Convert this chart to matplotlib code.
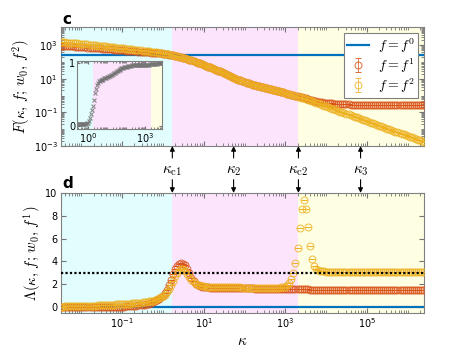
import numpy as np
import matplotlib
matplotlib.use("Agg")
import matplotlib.pyplot as plt
from matplotlib.ticker import LogLocator, NullFormatter
from matplotlib.transforms import blended_transform_factory

plt.rcParams['mathtext.fontset'] = 'cm'

# log10(kappa) sample points
log_kappa = [
    -2.5, -2.45, -2.4, -2.35, -2.3, -2.25, -2.2, -2.15, -2.1, -2.05,
    -2.0, -1.95, -1.9, -1.85, -1.8, -1.75, -1.7, -1.65, -1.6, -1.55,
    -1.5, -1.45, -1.4, -1.35, -1.3, -1.25, -1.2, -1.15, -1.1, -1.05,
    -1.0, -0.95, -0.9, -0.85, -0.8, -0.75, -0.7, -0.65, -0.6, -0.55,
    -0.5, -0.45, -0.4, -0.35, -0.3, -0.25, -0.2, -0.15, -0.1, -0.05,
    0.0, 0.05, 0.1, 0.15, 0.2, 0.25, 0.3, 0.35, 0.4, 0.45,
    0.5, 0.55, 0.6, 0.65, 0.7, 0.75, 0.8, 0.85, 0.9, 0.95,
    1.0, 1.05, 1.1, 1.15, 1.2, 1.25, 1.3, 1.35, 1.4, 1.45,
    1.5, 1.55, 1.6, 1.65, 1.7, 1.75, 1.8, 1.85, 1.9, 1.95,
    2.0, 2.05, 2.1, 2.15, 2.2, 2.25, 2.3, 2.35, 2.4, 2.45,
    2.5, 2.55, 2.6, 2.65, 2.7, 2.75, 2.8, 2.85, 2.9, 2.95,
    3.0, 3.05, 3.1, 3.15, 3.2, 3.25, 3.3, 3.35, 3.4, 3.45,
    3.5, 3.55, 3.6, 3.65, 3.7, 3.75, 3.8, 3.85, 3.9, 3.95,
    4.0, 4.05, 4.1, 4.15, 4.2, 4.25, 4.3, 4.35, 4.4, 4.45,
    4.5, 4.55, 4.6, 4.65, 4.7, 4.75, 4.8, 4.85, 4.9, 4.95,
    5.0, 5.05, 5.1, 5.15, 5.2, 5.25, 5.3, 5.35, 5.4, 5.45,
    5.5, 5.55, 5.6, 5.65, 5.7, 5.75, 5.8, 5.85, 5.9, 5.95,
    6.0, 6.05, 6.1, 6.15, 6.2, 6.25, 6.3, 6.35, 6.4,
]

# log10 F for f = f^1 (red) and f = f^2 (orange)
logF1 = [
    2.96, 2.95, 2.95, 2.94, 2.93, 2.92, 2.91, 2.90, 2.90, 2.89,
    2.88, 2.87, 2.86, 2.85, 2.84, 2.83, 2.82, 2.82, 2.81, 2.80,
    2.79, 2.78, 2.77, 2.76, 2.75, 2.74, 2.73, 2.72, 2.71, 2.70,
    2.69, 2.68, 2.67, 2.66, 2.65, 2.64, 2.63, 2.62, 2.61, 2.60,
    2.59, 2.58, 2.57, 2.56, 2.55, 2.54, 2.53, 2.52, 2.51, 2.50,
    2.49, 2.47, 2.45, 2.43, 2.41, 2.39, 2.37, 2.34, 2.31, 2.28,
    2.25, 2.21, 2.17, 2.13, 2.09, 2.05, 2.01, 1.96, 1.92, 1.87,
    1.82, 1.77, 1.72, 1.67, 1.62, 1.57, 1.52, 1.48, 1.43, 1.38,
    1.33, 1.28, 1.22, 1.17, 1.11, 1.06, 1.00, 0.95, 0.90, 0.85,
    0.80, 0.76, 0.72, 0.68, 0.64, 0.61, 0.58, 0.55, 0.52, 0.49,
    0.46, 0.43, 0.40, 0.37, 0.34, 0.31, 0.27, 0.24, 0.21, 0.18,
    0.15, 0.12, 0.08, 0.05, 0.02, -0.01, -0.04, -0.07, -0.10, -0.13,
    -0.16, -0.20, -0.24, -0.27, -0.30, -0.33, -0.36, -0.38, -0.40, -0.42,
    -0.43, -0.45, -0.46, -0.47, -0.48, -0.49, -0.50, -0.51, -0.51, -0.52,
    -0.53, -0.53, -0.54, -0.54, -0.54, -0.55, -0.55, -0.55, -0.55, -0.56,
    -0.56, -0.56, -0.55, -0.56, -0.56, -0.57, -0.56, -0.56, -0.56, -0.56,
    -0.56, -0.57, -0.56, -0.56, -0.56, -0.56, -0.57, -0.56, -0.56, -0.56,
    -0.56, -0.56, -0.57, -0.56, -0.56, -0.56, -0.56, -0.57, -0.56,
]
logF2 = [
    3.17, 3.16, 3.15, 3.14, 3.13, 3.12, 3.11, 3.10, 3.09, 3.08,
    3.07, 3.06, 3.04, 3.03, 3.02, 3.00, 2.99, 2.98, 2.96, 2.95,
    2.94, 2.93, 2.91, 2.90, 2.89, 2.87, 2.86, 2.85, 2.83, 2.82,
    2.81, 2.80, 2.78, 2.77, 2.75, 2.74, 2.73, 2.71, 2.70, 2.68,
    2.67, 2.65, 2.64, 2.62, 2.61, 2.59, 2.57, 2.56, 2.54, 2.53,
    2.51, 2.49, 2.47, 2.45, 2.42, 2.40, 2.37, 2.34, 2.31, 2.28,
    2.25, 2.21, 2.17, 2.13, 2.09, 2.05, 2.01, 1.96, 1.92, 1.87,
    1.82, 1.77, 1.72, 1.67, 1.62, 1.57, 1.52, 1.48, 1.43, 1.38,
    1.33, 1.28, 1.22, 1.17, 1.11, 1.06, 1.00, 0.95, 0.90, 0.85,
    0.80, 0.76, 0.72, 0.68, 0.64, 0.61, 0.58, 0.55, 0.52, 0.49,
    0.46, 0.43, 0.40, 0.37, 0.34, 0.31, 0.27, 0.24, 0.21, 0.18,
    0.15, 0.12, 0.08, 0.05, 0.01, -0.02, -0.06, -0.09, -0.13, -0.16,
    -0.20, -0.24, -0.29, -0.33, -0.38, -0.42, -0.46, -0.51, -0.55, -0.60,
    -0.64, -0.68, -0.73, -0.77, -0.82, -0.86, -0.90, -0.95, -0.99, -1.04,
    -1.08, -1.12, -1.17, -1.21, -1.26, -1.30, -1.34, -1.39, -1.43, -1.48,
    -1.52, -1.56, -1.61, -1.65, -1.70, -1.74, -1.78, -1.83, -1.87, -1.92,
    -1.96, -2.00, -2.05, -2.09, -2.14, -2.18, -2.22, -2.27, -2.31, -2.36,
    -2.40, -2.44, -2.49, -2.53, -2.58, -2.62, -2.66, -2.71, -2.75,
]

# Lambda for f = f^1 (red) and f = f^2 (orange)
Lam1 = [
    0.01, 0.01, 0.01, 0.01, 0.01, 0.01, 0.01, 0.01, 0.01, 0.01,
    0.01, 0.01, 0.02, 0.02, 0.02, 0.02, 0.02, 0.02, 0.02, 0.02,
    0.03, 0.03, 0.03, 0.03, 0.03, 0.04, 0.04, 0.04, 0.05, 0.05,
    0.06, 0.06, 0.07, 0.08, 0.09, 0.10, 0.11, 0.13, 0.15, 0.17,
    0.20, 0.23, 0.27, 0.31, 0.36, 0.42, 0.50, 0.60, 0.72, 0.85,
    1.00, 1.20, 1.50, 1.90, 2.40, 2.90, 3.30, 3.60, 3.78, 3.85,
    3.82, 3.65, 3.35, 2.95, 2.55, 2.25, 2.05, 1.92, 1.84, 1.79,
    1.76, 1.74, 1.73, 1.72, 1.71, 1.71, 1.70, 1.70, 1.69, 1.69,
    1.68, 1.68, 1.68, 1.67, 1.67, 1.67, 1.66, 1.66, 1.66, 1.65,
    1.65, 1.65, 1.64, 1.64, 1.64, 1.63, 1.63, 1.63, 1.62, 1.62,
    1.62, 1.61, 1.61, 1.61, 1.60, 1.60, 1.60, 1.59, 1.59, 1.59,
    1.58, 1.58, 1.58, 1.57, 1.57, 1.57, 1.56, 1.56, 1.56, 1.55,
    1.55, 1.55, 1.54, 1.54, 1.54, 1.54, 1.53, 1.53, 1.53, 1.53,
    1.52, 1.53, 1.52, 1.52, 1.53, 1.52, 1.52, 1.52, 1.53, 1.52,
    1.52, 1.52, 1.53, 1.52, 1.52, 1.52, 1.52, 1.53, 1.52, 1.52,
    1.53, 1.52, 1.52, 1.52, 1.52, 1.53, 1.52, 1.52, 1.52, 1.53,
    1.52, 1.52, 1.53, 1.52, 1.52, 1.52, 1.53, 1.52, 1.52, 1.52,
    1.52, 1.53, 1.52, 1.52, 1.52, 1.53, 1.52, 1.52, 1.52,
]
Lam2 = [
    0.06, 0.06, 0.07, 0.07, 0.08, 0.08, 0.08, 0.09, 0.09, 0.10,
    0.10, 0.11, 0.11, 0.12, 0.12, 0.13, 0.13, 0.14, 0.15, 0.16,
    0.17, 0.18, 0.19, 0.20, 0.21, 0.22, 0.23, 0.24, 0.25, 0.26,
    0.27, 0.28, 0.29, 0.30, 0.31, 0.33, 0.34, 0.36, 0.38, 0.40,
    0.42, 0.44, 0.47, 0.50, 0.54, 0.58, 0.63, 0.70, 0.78, 0.86,
    0.95, 1.10, 1.30, 1.58, 1.90, 2.30, 2.70, 3.00, 3.25, 3.33,
    3.30, 3.15, 2.90, 2.62, 2.38, 2.20, 2.05, 1.96, 1.90, 1.85,
    1.82, 1.80, 1.79, 1.78, 1.78, 1.77, 1.77, 1.76, 1.76, 1.76,
    1.75, 1.75, 1.75, 1.74, 1.74, 1.74, 1.73, 1.73, 1.73, 1.72,
    1.72, 1.72, 1.71, 1.71, 1.71, 1.70, 1.70, 1.70, 1.69, 1.69,
    1.69, 1.69, 1.69, 1.70, 1.70, 1.70, 1.71, 1.72, 1.73, 1.76,
    1.80, 1.92, 2.10, 2.50, 2.95, 3.83, 5.15, 6.90, 8.60, 9.40,
    8.60, 7.06, 5.33, 4.18, 3.60, 3.35, 3.25, 3.20, 3.16, 3.14,
    3.12, 3.10, 3.09, 3.08, 3.08, 3.07, 3.07, 3.06, 3.06, 3.06,
    3.05, 3.06, 3.05, 3.05, 3.04, 3.05, 3.05, 3.04, 3.05, 3.04,
    3.04, 3.05, 3.04, 3.04, 3.05, 3.04, 3.04, 3.04, 3.05, 3.04,
    3.04, 3.04, 3.05, 3.04, 3.04, 3.04, 3.05, 3.04, 3.04, 3.04,
    3.04, 3.05, 3.04, 3.04, 3.04, 3.05, 3.04, 3.04, 3.04,
]

# inset curve (grey crosses)
inset_vals = [
    0.02, 0.02, 0.02, 0.02, 0.02, 0.02, 0.02, 0.02, 0.02, 0.02,
    0.02, 0.02, 0.02, 0.02, 0.02, 0.02, 0.02, 0.02, 0.02, 0.02,
    0.02, 0.02, 0.02, 0.02, 0.02, 0.02, 0.02, 0.02, 0.02, 0.02,
    0.02, 0.02, 0.02, 0.02, 0.02, 0.02, 0.02, 0.02, 0.02, 0.02,
    0.02, 0.02, 0.02, 0.02, 0.02, 0.02, 0.02, 0.03, 0.03, 0.04,
    0.05, 0.08, 0.12, 0.18, 0.25, 0.32, 0.42, 0.52, 0.59, 0.65,
    0.69, 0.71, 0.72, 0.73, 0.74, 0.74, 0.75, 0.76, 0.76, 0.77,
    0.78, 0.78, 0.79, 0.80, 0.81, 0.82, 0.83, 0.84, 0.85, 0.86,
    0.87, 0.88, 0.89, 0.90, 0.91, 0.92, 0.92, 0.93, 0.94, 0.94,
    0.95, 0.95, 0.96, 0.96, 0.96, 0.96, 0.97, 0.97, 0.97, 0.97,
    0.97, 0.97, 0.97, 0.98, 0.98, 0.98, 0.98, 0.98, 0.98, 0.98,
    0.98, 0.98, 0.98, 0.98, 0.98, 0.99, 0.99, 0.99, 0.99, 0.99,
    0.99, 0.99, 0.99, 1.00, 1.00, 1.00, 1.00, 1.00, 1.00, 1.00,
    1.00, 1.00, 1.00, 1.00, 1.00, 1.00, 1.00, 1.00, 1.00, 1.00,
    1.00, 1.00, 1.00, 1.00, 1.00, 1.00, 1.00, 1.00, 1.00, 1.00,
    1.00, 1.00, 1.00, 1.00, 1.00, 1.00, 1.00, 1.00, 1.00, 1.00,
    1.00, 1.00, 1.00, 1.00, 1.00, 1.00, 1.00, 1.00, 1.00, 1.00,
    1.00, 1.00, 1.00, 1.00, 1.00, 1.00, 1.00, 1.00, 1.00,
]

F0_level = 260      # f = f^0 in panel c
Lam0_level = 0      # f = f^0 in panel d
Lam_threshold = 3   # dotted line

kappa_marks = [1.7, 54, 2100, 7.0e4]
kappa_names = [r'$\kappa_{\rm c1}$', r'$\kappa_2$', r'$\kappa_{\rm c2}$', r'$\kappa_3$']

xlim = (10 ** -2.5, 10 ** 6.4)
c_blue, c_red, c_orange = '#0072BD', '#D95319', '#EDB120'
region_cols = ['#e2fdfd', '#fde4fd', '#fefee2']

kappa = 10 ** np.array(log_kappa)
F1 = 10 ** np.array(logF1)
F2 = 10 ** np.array(logF2)

fig = plt.figure(figsize=(4.69, 3.52), dpi=100)
ax1 = fig.add_axes([0.130, 0.585, 0.774, 0.338])
ax2 = fig.add_axes([0.130, 0.111, 0.774, 0.341])


def shade(ax, lo, hi):
    ax.axvspan(lo, kappa_marks[0], color=region_cols[0], lw=0, zorder=0)
    ax.axvspan(kappa_marks[0], kappa_marks[2], color=region_cols[1], lw=0, zorder=0)
    ax.axvspan(kappa_marks[2], hi, color=region_cols[2], lw=0, zorder=0)


def style(ax, size=7):
    for s in ax.spines.values():
        s.set_color('0.5')
    ax.tick_params(which='both', direction='in', top=True, right=True,
                   colors='0.45', labelcolor='k', labelsize=size, pad=2.5)
    ax.tick_params(which='major', length=3.5)
    ax.tick_params(which='minor', length=2)


mk = dict(fmt='o', mfc='none', ms=5, mew=0.7, capsize=2.3,
          elinewidth=0.6, capthick=0.6, alpha=0.85)

# panel c
shade(ax1, *xlim)
ax1.axhline(F0_level, color=c_blue, lw=1.6, label=r'$f = f^0$', zorder=3)
ax1.errorbar(kappa, F1, yerr=0, color=c_red, label=r'$f = f^1$', zorder=4, **mk)
ax1.errorbar(kappa, F2, yerr=0, color=c_orange, label=r'$f = f^2$', zorder=5, **mk)
ax1.set_xscale('log')
ax1.set_yscale('log')
ax1.set_xlim(*xlim)
ax1.set_ylim(1e-3, 1.15e4)
ax1.set_yticks([1e-3, 1e-1, 1e1, 1e3])
ax1.yaxis.set_minor_locator(LogLocator(base=10, subs=np.arange(1, 10), numticks=30))
ax1.yaxis.set_minor_formatter(NullFormatter())
ax1.set_xticks([1e-1, 1e1, 1e3, 1e5])
ax1.xaxis.set_minor_locator(LogLocator(base=10, subs=np.arange(1, 10), numticks=30))
ax1.xaxis.set_minor_formatter(NullFormatter())
ax1.set_xticklabels([])
ax1.set_ylabel(r'$F(\kappa,\, f;\, w_0,\, f^2)$', fontsize=10.5)
ax1.yaxis.set_label_coords(-0.08, 0.5)
style(ax1)
leg = ax1.legend(loc='upper right', fontsize=10, fancybox=False, framealpha=1,
                 edgecolor='0.5', handlelength=1.6, borderpad=0.25,
                 labelspacing=0.1, handletextpad=0.6, borderaxespad=0.4)
leg.get_frame().set_linewidth(0.8)

# inset
axin = fig.add_axes([0.165, 0.634, 0.181, 0.193])
axin.axvspan(10 ** -0.57, kappa_marks[0], color=region_cols[0], lw=0, zorder=0)
axin.axvspan(kappa_marks[0], kappa_marks[2], color=region_cols[1], lw=0, zorder=0)
axin.axvspan(kappa_marks[2], 10 ** 3.9, color=region_cols[2], lw=0, zorder=0)
axin.plot(kappa, inset_vals, 'x', color='0.45', ms=3.5, mew=0.8, alpha=0.8)
axin.set_xscale('log')
axin.set_xlim(10 ** -0.57, 10 ** 3.9)
axin.set_ylim(-0.05, 1.04)
axin.set_xticks([1e0, 1e3])
axin.xaxis.set_minor_locator(LogLocator(base=10, subs=np.arange(1, 10), numticks=30))
axin.xaxis.set_minor_formatter(NullFormatter())
axin.set_yticks([0, 1])
axin.set_yticklabels(['0', '1'])
style(axin, size=7)
axin.tick_params(which='major', length=2.5, pad=1.5)
axin.tick_params(which='minor', length=1.5)

# panel d
shade(ax2, *xlim)
ax2.axhline(Lam0_level, color=c_blue, lw=1.6, zorder=3)
ax2.axhline(Lam_threshold, color='k', lw=1.6, ls=(0, (1, 1)), zorder=6)
ax2.errorbar(kappa, Lam1, yerr=0, color=c_red, zorder=4, **mk)
ax2.errorbar(kappa, Lam2, yerr=0, color=c_orange, zorder=5, **mk)
ax2.set_xscale('log')
ax2.set_xlim(*xlim)
ax2.set_ylim(-0.5, 10)
ax2.set_yticks([0, 2, 4, 6, 8, 10])
ax2.set_xticks([1e-1, 1e1, 1e3, 1e5])
ax2.xaxis.set_minor_locator(LogLocator(base=10, subs=np.arange(1, 10), numticks=30))
ax2.xaxis.set_minor_formatter(NullFormatter())
ax2.set_xlabel(r'$\kappa$', fontsize=11, labelpad=2)
ax2.set_ylabel(r'$\Lambda(\kappa,\, f;\, w_0,\, f^1)$', fontsize=10.5)
ax2.yaxis.set_label_coords(-0.05, 0.5)
style(ax2)

# arrows and labels between the panels
arrow = dict(arrowstyle='-|>', color='k', lw=0.8, mutation_scale=7,
             shrinkA=0, shrinkB=0)
tr1 = blended_transform_factory(ax1.transData, ax1.transAxes)
tr2 = blended_transform_factory(ax2.transData, ax2.transAxes)
for k, name in zip(kappa_marks, kappa_names):
    ax1.annotate('', xy=(k, 0), xytext=(k, -0.1), xycoords=tr1,
                 textcoords=tr1, arrowprops=arrow, annotation_clip=False)
    ax2.annotate('', xy=(k, 1.0), xytext=(k, 1.11), xycoords=tr2,
                 textcoords=tr2, arrowprops=arrow, annotation_clip=False)
    ax2.text(k, 1.19, name, transform=tr2, ha='center', va='center', fontsize=11)

fig.text(0.133, 0.945, 'c', fontsize=11, fontweight='bold', va='center')
fig.text(0.133, 0.479, 'd', fontsize=11, fontweight='bold', va='center')

fig.savefig('out.png', dpi=100)
